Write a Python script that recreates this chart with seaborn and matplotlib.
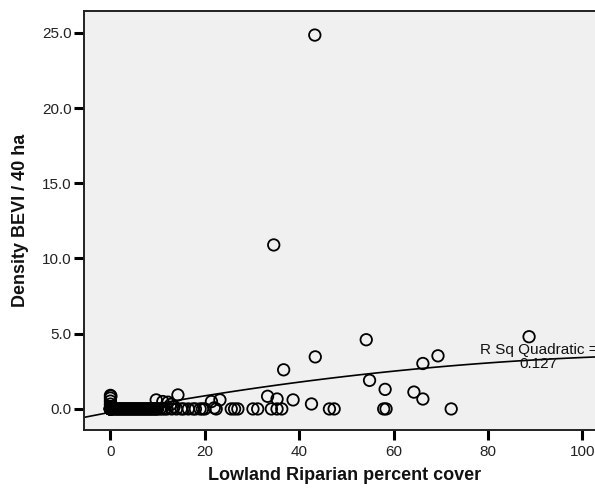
import numpy as np
import pandas as pd
import matplotlib
matplotlib.use("Agg")
import matplotlib.pyplot as plt
import seaborn as sns

# ---- data ----
zero_x = [0, 0, 0, 0, 0, 0, 0, 0, 0, 0,
          0.3, 0.5, 0.8, 1, 1.3, 1.5, 1.8, 2, 2.3, 2.5, 2.8, 3, 3.3, 3.5, 3.8,
          4, 4.3, 4.5, 4.8, 5, 5.3, 5.5, 5.8, 6, 6.3, 6.5, 6.8, 7, 7.3, 7.5, 7.8,
          8, 8.3, 8.5, 8.8, 9, 9.3, 9.5, 9.8, 10, 10.5, 11, 11.5, 12, 13, 14,
          15, 15.5, 16.5, 17.5, 18, 19, 19.5, 20,
          22.4, 25.6, 26.3, 27.0, 30.2, 31.2, 34.1, 35.3, 36.3, 46.4, 47.4,
          57.9, 58.4, 72.2]
pos_x = [0, 0, 0, 0, 0, 0.1, 9.7, 11.1, 12.2, 12.8, 14.3, 13.5, 21.4, 23.2, 22.0,
         33.3, 35.3, 38.7, 42.6, 36.7, 43.4, 34.6, 43.3, 54.2, 54.9, 58.2,
         64.3, 66.2, 66.2, 69.4, 88.7]
pos_y = [0.9, 0.72, 0.52, 0.32, 0.15, 0.85, 0.6, 0.49, 0.45, 0.3, 0.93, 0.15, 0.49, 0.6, 0.07,
         0.84, 0.66, 0.6, 0.33, 2.6, 3.46, 10.9, 24.85, 4.6, 1.9, 1.3,
         1.12, 3.02, 0.66, 3.53, 4.8]

x_ticks = [0, 20, 40, 60, 80, 100]
y_ticks = [0.0, 5.0, 10.0, 15.0, 20.0, 25.0]
x_label = "Lowland Riparian percent cover"
y_label = "Density BEVI / 40 ha"
fit_label = "R Sq Quadratic =\n0.127"

df = pd.DataFrame({
    "x": zero_x + pos_x,
    "y": [0.0] * len(zero_x) + pos_y,
})

# ---- figure ----
sns.set_style("white")
plt.rcParams["font.family"] = ["Liberation Sans", "DejaVu Sans"]

fig = plt.figure(figsize=(5.95, 4.92), dpi=100)
left, right = 84 / 595, 606 / 595
bottom, top = (492 - 430) / 492, (492 - 11) / 492
ax = fig.add_axes([left, bottom, right - left, top - bottom])
ax.set_facecolor("#f0f0f0")

ax.set_xlim(-5.6, 105)
ax.set_ylim(-1.4, 26.45)

sns.scatterplot(data=df, x="x", y="y", ax=ax, marker="o", s=68,
                facecolor="none", edgecolor="black", linewidth=1.3, zorder=3)
sns.regplot(data=df, x="x", y="y", ax=ax, order=2, ci=None, scatter=False,
            truncate=False, line_kws=dict(color="black", lw=1.2, zorder=2))
ax.set_xlim(-5.6, 105)
ax.set_ylim(-1.4, 26.45)

ax.text(90.7, 3.45, fit_label, ha="center", va="center", fontsize=11,
        linespacing=0.95, multialignment="center", color="#111111", zorder=4)

ax.set_xticks(x_ticks)
ax.set_xticklabels([str(t) for t in x_ticks])
ax.set_yticks(y_ticks)
ax.set_yticklabels([f"{t:.1f}" for t in y_ticks])
ax.tick_params(axis="both", direction="out", length=7, width=2.2, color="black",
               labelsize=11, labelcolor="#222222", bottom=True, left=True)
ax.tick_params(axis="x", pad=3.5)
ax.tick_params(axis="y", pad=2)

for side in ["left", "bottom", "top", "right"]:
    ax.spines[side].set_visible(True)
    ax.spines[side].set_color("#222222")
    ax.spines[side].set_linewidth(1.4)

ax.set_xlabel(x_label, fontsize=13, fontweight="bold", color="#111111")
ax.set_ylabel(y_label, fontsize=13, fontweight="bold", color="#111111")
ax.xaxis.set_label_coords(0.5, -0.088)
ax.yaxis.set_label_coords(-0.105, 0.5)

fig.savefig("out.png", dpi=100, facecolor="white")
